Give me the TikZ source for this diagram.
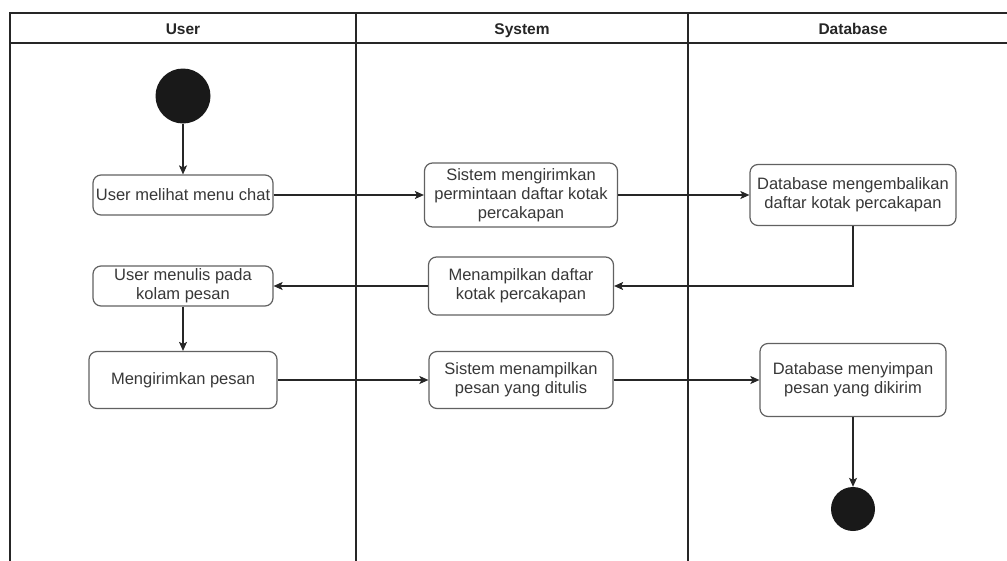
\documentclass[tikz,border=0pt]{standalone}
\usepackage{fontspec}
\setmainfont{Liberation Sans}
\usetikzlibrary{arrows.meta}
\begin{document}
\begin{tikzpicture}[x=1pt,y=-1pt,
  act/.style={draw=black!62, line width=1.2pt, rounded corners=8pt, fill=white,
    align=center, text=black!78, inner xsep=2pt, inner ysep=1pt,
    font=\fontsize{16.5}{19}\selectfont},
  flow/.style={draw=black!85, line width=1.1pt,
    -{Stealth[length=9pt,width=8pt,inset=2pt]}},
  lane/.style={draw=black!85, line width=1.1pt},
  lanehead/.style={font=\bfseries\fontsize{15.5}{18}\selectfont, text=black!85,
    anchor=base},
  dot/.style={circle, fill=black!90, draw=none, inner sep=0pt}]

  % page size
  \useasboundingbox (0,0) rectangle (1007,560);

  % swimlanes
  \draw[lane] (1010,13) -- (10,13) -- (10,562);
  \draw[lane] (10,43) -- (1010,43);
  \draw[lane] (356,13) -- (356,562);
  \draw[lane] (688,13) -- (688,562);
  \node[lanehead] (hUser) at (183,34.5) {User};
  \node[lanehead] (hSys)  at (522,34.5) {System};
  \node[lanehead] (hDb)   at (853,34.5) {Database};

  % start and end
  \node[dot, minimum size=55pt] (start) at (183,96) {};
  \node[dot, minimum size=44pt] (end) at (853,509) {};

  % activities
  \node[act, minimum width=180pt, minimum height=40pt] (a1) at (183,195) {User melihat menu chat};
  \node[act, minimum width=193pt, minimum height=64pt] (s1) at (521,195) {Sistem mengirimkan\\permintaan daftar kotak\\percakapan};
  \node[act, minimum width=206pt, minimum height=61pt] (d1) at (853,195) {Database mengembalikan\\daftar kotak percakapan};
  \node[act, minimum width=185pt, minimum height=58pt] (s2) at (521,286) {Menampilkan daftar\\kotak percakapan};
  \node[act, minimum width=180pt, minimum height=40pt] (a2) at (183,286) {User menulis pada\\kolam pesan};
  \node[act, minimum width=188pt, minimum height=57pt] (a3) at (183,380) {Mengirimkan pesan};
  \node[act, minimum width=184pt, minimum height=57pt] (s3) at (521,380) {Sistem menampilkan\\pesan yang ditulis};
  \node[act, minimum width=186pt, minimum height=73pt] (d3) at (853,380) {Database menyimpan\\pesan yang dikirim};

  % control flow
  \draw[flow] (start) -- (a1);
  \draw[flow] (a1) -- (s1);
  \draw[flow] (s1) -- (d1);
  \draw[flow] (d1.south) |- (s2.east);
  \draw[flow] (s2) -- (a2);
  \draw[flow] (a2) -- (a3);
  \draw[flow] (a3) -- (s3);
  \draw[flow] (s3) -- (d3);
  \draw[flow] (d3) -- (end);
\end{tikzpicture}
\end{document}
